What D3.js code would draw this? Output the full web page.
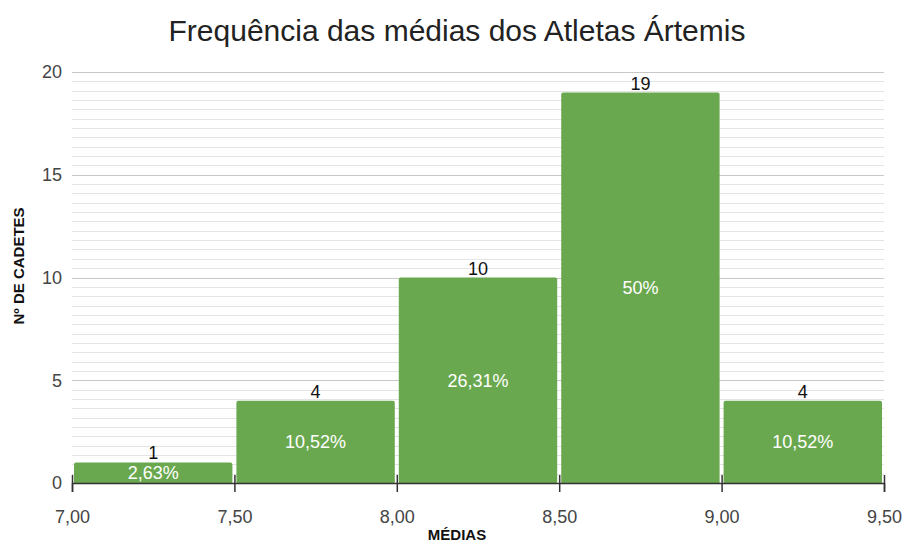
<!DOCTYPE html>
<html>
<head>
<meta charset="utf-8" />
<title>Frequência das médias</title>
<script src="https://d3js.org/d3.v7.min.js"></script>
<style>
html, body { margin: 0; padding: 0; background: #fff; }
svg { display: block; font-family: "Liberation Sans", Arial, sans-serif; }
</style>
</head>
<body>
<script>
// data
let binStarts = [7.0, 7.5, 8.0, 8.5, 9.0];
let binWidth = 0.5;
let counts = [1, 4, 10, 19, 4];
let percentLabels = ['2,63%', '10,52%', '26,31%', '50%', '10,52%'];
let xTicks = [7.0, 7.5, 8.0, 8.5, 9.0, 9.5];
let yTicks = [0, 5, 10, 15, 20];

let width = 904, height = 543;
let svg = d3.select('body').append('svg').attr('width', width).attr('height', height);

let x = d3.scaleLinear().domain([7, 9.5]).range([72, 884]);
let y = d3.scaleLinear().domain([0, 20]).range([483, 72]);

// minor grid: 11 steps between major lines
let minor = [];
for (let i = 0; i < 4; i++) {
    for (let j = 1; j < 11; j++) minor.push(yTicks[i] + j * 5 / 11);
}
svg.append('g').selectAll('line').data(minor).enter().append('line')
    .attr('x1', x(7)).attr('x2', x(9.5))
    .attr('y1', d => Math.round(y(d)) + 0.5).attr('y2', d => Math.round(y(d)) + 0.5)
    .attr('stroke', '#e4e4e4').attr('stroke-width', 1);

svg.append('g').selectAll('line').data(yTicks.slice(1)).enter().append('line')
    .attr('x1', x(7)).attr('x2', x(9.5))
    .attr('y1', d => Math.round(y(d)) + 0.5).attr('y2', d => Math.round(y(d)) + 0.5)
    .attr('stroke', '#c8c8c8').attr('stroke-width', 1);

// bars
let bars = svg.append('g');
bars.selectAll('path').data(counts).enter().append('path')
    .attr('fill', '#6aa84f')
    .attr('d', (d, i) => {
        let x0 = x(binStarts[i]) + 2, x1 = x(binStarts[i] + binWidth) - 2;
        let y0 = y(d), y1 = y(0), r = 2;
        return `M${x0},${y1}V${y0 + r}Q${x0},${y0} ${x0 + r},${y0}H${x1 - r}Q${x1},${y0} ${x1},${y0 + r}V${y1}Z`;
    });

bars.selectAll('text.count').data(counts).enter().append('text').attr('class', 'count')
    .attr('x', (d, i) => x(binStarts[i] + binWidth / 2))
    .attr('y', d => y(d) - 3)
    .attr('text-anchor', 'middle').attr('font-size', 18).attr('fill', '#111')
    .text(d => d);

bars.selectAll('text.pct').data(counts).enter().append('text').attr('class', 'pct')
    .attr('x', (d, i) => x(binStarts[i] + binWidth / 2))
    .attr('y', d => (y(d) + y(0)) / 2)
    .attr('dy', '0.36em')
    .attr('text-anchor', 'middle').attr('font-size', 18).attr('fill', '#fff')
    .text((d, i) => percentLabels[i]);

// x axis
let xAxis = svg.append('g').attr('transform', `translate(0, ${y(0)})`)
    .call(d3.axisBottom(x).tickValues(xTicks).tickSize(9).tickFormat(d => d3.format('.2f')(d).replace('.', ',')));
xAxis.select('.domain').attr('stroke', '#333').attr('stroke-width', 1.5);
xAxis.selectAll('.tick line').attr('stroke', '#333').attr('stroke-width', 1.5).attr('y1', -8);
xAxis.selectAll('.tick text').attr('font-size', 18).attr('fill', '#444').attr('font-family', null)
    .attr('y', 40).attr('dy', null);

// y axis labels
svg.append('g').selectAll('text').data(yTicks).enter().append('text')
    .attr('x', 62).attr('y', d => y(d)).attr('dy', '0.35em')
    .attr('text-anchor', 'end').attr('font-size', 18).attr('fill', '#444')
    .text(d => d);

// titles
svg.append('text').attr('x', 457).attr('y', 41).attr('text-anchor', 'middle')
    .attr('font-size', 30).attr('fill', '#222').text('Frequência das médias dos Atletas Ártemis');

svg.append('text').attr('x', 457).attr('y', 540).attr('text-anchor', 'middle')
    .attr('font-size', 15).attr('font-weight', 'bold').attr('fill', '#111').text('MÉDIAS');

svg.append('text').attr('transform', 'translate(24, 266) rotate(-90)').attr('text-anchor', 'middle')
    .attr('font-size', 15).attr('font-weight', 'bold').attr('fill', '#111').text('Nº DE CADETES');
</script>
</body>
</html>
